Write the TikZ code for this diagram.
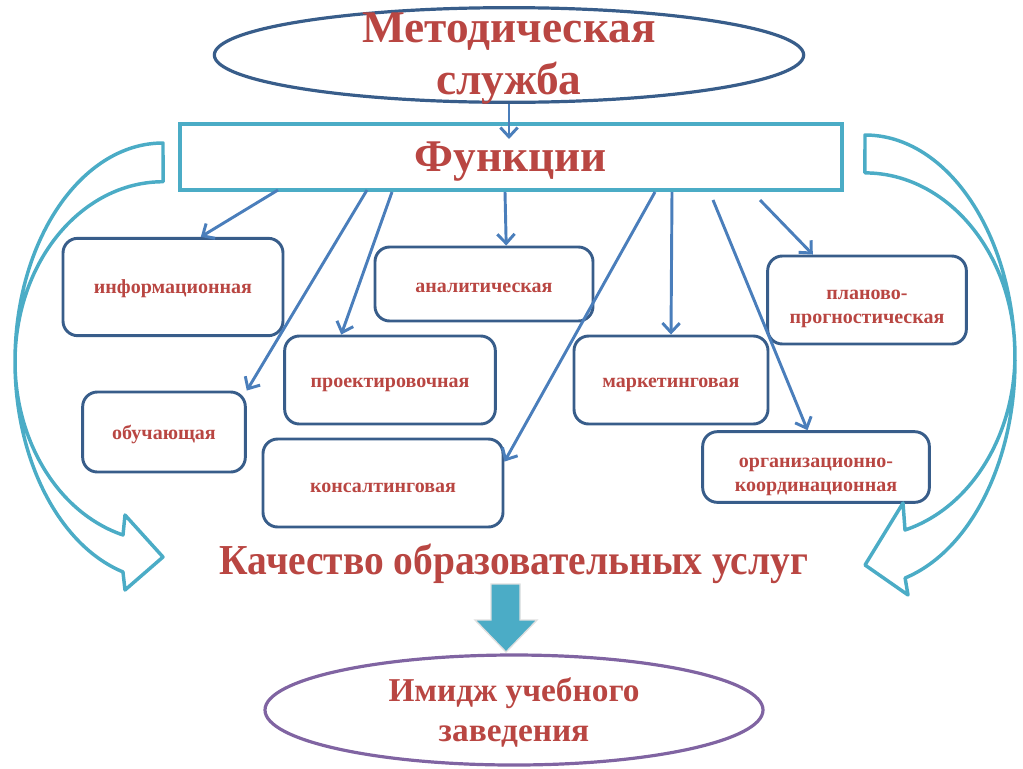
\documentclass[tikz,border=0pt]{standalone}
\usepackage{fontspec}
\setmainfont{Liberation Serif}
\usetikzlibrary{shapes.geometric,arrows.meta}
\definecolor{txtred}{RGB}{185,70,66}
\definecolor{boxblue}{RGB}{56,93,138}
\definecolor{arrblue}{RGB}{74,126,187}
\definecolor{seablue}{RGB}{75,172,198}
\definecolor{lilac}{RGB}{128,100,162}
\begin{document}
\begin{tikzpicture}[x=0.75pt,y=-0.75pt,
    fbox/.style={draw=boxblue, line width=2.2pt, rounded corners=11pt, fill=white,
        align=center, text=txtred, text depth=0pt, font=\bfseries\fontsize{15}{18}\selectfont},
    fnarrow/.style={draw=arrblue, line width=2.2pt, -{Straight Barb[length=7pt,width=13pt]}},
    bigtext/.style={text=txtred, align=center, font=\bfseries\fontsize{34}{39}\selectfont},
    loopband/.style={draw=seablue, line width=2.6pt, line join=round}]
    \useasboundingbox (0,0) rectangle (1023,768);

    % Service and its functions
    \node[ellipse, draw=boxblue, line width=2.4pt, minimum width=442pt, minimum height=71pt] (metod) at (509,55) {};
    \node[bigtext] at ([yshift=-3pt]metod.center) {Методическая\\служба};
    \node[draw=seablue, line width=3pt, minimum width=497pt, minimum height=49pt,
        bigtext, text depth=0pt, font=\bfseries\fontsize{34}{36}\selectfont] (func) at (511,157) {Функции};
    \coordinate (ftop) at (509,139);
    \draw[fnarrow] (metod.south) -- (ftop);

    % Function boxes
    \node[fbox, minimum width=165pt, minimum height=73pt] (info) at (173,287) {информационная};
    \node[fbox, minimum width=163.5pt, minimum height=55.5pt, text height=13pt] (anal) at (484,284) {аналитическая};
    \node[fbox, minimum width=149pt, minimum height=66pt] (plan) at (867,300) {\rule{0pt}{17pt}планово-\\прогностическая};
    \node[fbox, minimum width=158pt, minimum height=66pt, text height=11pt] (proj) at (390,380) {проектировочная};
    \node[fbox, minimum width=145.5pt, minimum height=66pt, text height=11pt] (mark) at (671,380) {маркетинговая};
    \node[fbox, minimum width=122pt, minimum height=60pt] (obuch) at (164,432) {обучающая};
    \node[fbox, minimum width=180pt, minimum height=66pt, text height=14pt] (kons) at (383,483) {консалтинговая};
    \node[fbox, minimum width=170pt, minimum height=53pt] (org) at (816,467) {\rule{0pt}{18pt}организационно-\\координационная};

    % Arrows from the functions bar
    \foreach \n/\x/\y in {1/278/190, 2/367/190, 3/392/192, 4/505/192, 5/655/192, 6/672/192, 7/713/200, 8/760/200}
        \coordinate (f\n) at (\x,\y);
    \foreach \s/\t in {f1/info.61, f2/obuch.north east, f3/proj.137, f4/anal.60,
        f5/kons.10, f6/mark.north, f7/org.103, f8/plan.140}
        \draw[fnarrow] (\s) -- (\t);

    % Curved arrows round the boxes
    \draw[loopband] (163,143) arc[start angle=90, end angle=254.3, x radius=111pt, y radius=163.9pt]
        -- (125,590) -- (163,557) -- (125,515) -- (123,535)
        arc[start angle=254.3, end angle=90, x radius=111pt, y radius=135pt] -- cycle;
    \draw[loopband] (865,135) arc[start angle=90, end angle=-74.5, x radius=112.5pt, y radius=169.2pt]
        -- (908,595) -- (865,565) -- (903,503) -- (905,530)
        arc[start angle=-74.5, end angle=90, x radius=112.5pt, y radius=136.4pt] -- cycle;

    % Quality and image
    \node[bigtext, font=\bfseries\fontsize{32}{36}\selectfont] (qual) at (514,564)
        {\scalebox{0.925}[1]{Качество образовательных услуг}};
    \draw[draw=white!75!gray, line width=1pt, fill=seablue]
        (491,584) -- (520,584) -- (520,620) -- (537,620) -- (506,652) -- (475,620) -- (491,620) -- cycle;
    \node[ellipse, draw=lilac, line width=2.4pt, minimum width=373.5pt, minimum height=82.5pt] (imidzh) at (514,710) {};
    \node[bigtext, font=\bfseries\fontsize{25}{30}\selectfont] at ([yshift=-1.5pt]imidzh.center) {Имидж учебного\\заведения};
\end{tikzpicture}
\end{document}
